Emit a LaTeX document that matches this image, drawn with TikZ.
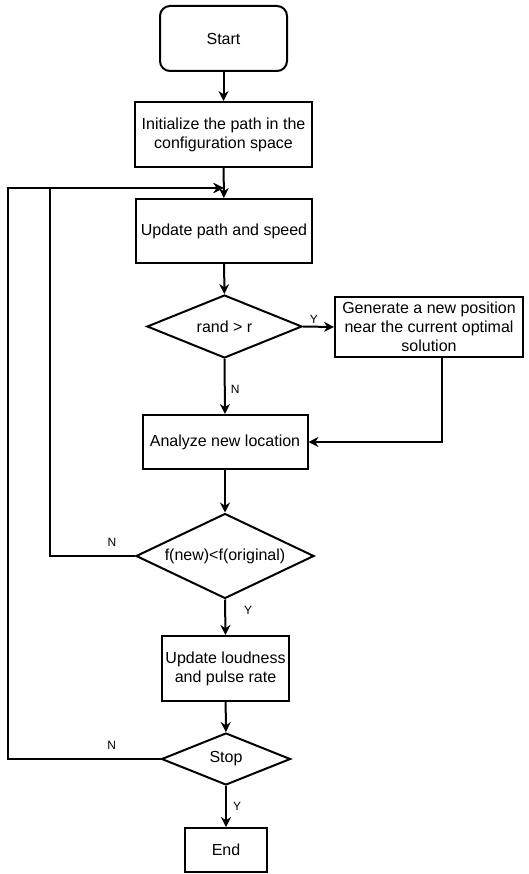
\documentclass[tikz,border=0pt]{standalone}
\usepackage{fontspec}
\setmainfont{Liberation Sans}
\usetikzlibrary{shapes.geometric,arrows.meta}

\begin{document}
\begin{tikzpicture}[x=1pt,y=-1pt,line width=2pt,
  box/.style={draw,rectangle,align=center,font=\fontsize{16}{19}\selectfont,inner sep=2pt},
  dec/.style={draw,diamond,inner sep=0pt,font=\fontsize{16}{19}\selectfont},
  arr/.style={-{Stealth[length=10pt,width=10pt]}},
  lbl/.style={font=\fontsize{12}{14}\selectfont,inner sep=2pt}]
  \useasboundingbox (0,0) rectangle (528,874);
  \node[box,rounded corners=10pt,minimum width=127pt,minimum height=65pt] (St) at (223.5,38.5) {Start};
  \node[box,minimum width=177pt,minimum height=65pt] (In) at (223.5,134.5) {Initialize the path in the\\configuration space};
  \node[box,minimum width=176pt,minimum height=64pt] (Up) at (224,231) {Update path and speed};
  \node[dec,aspect=2.46,minimum width=155pt,minimum height=63pt] (D1) at (224.5,326.5) {rand > r};
  \node[box,minimum width=188pt,minimum height=60pt] (Ge) at (429,327) {Generate a new position\\near the current optimal\\solution};
  \node[box,minimum width=165pt,minimum height=54pt] (An) at (225,442) {Analyze new location};
  \node[dec,aspect=2.1,minimum width=178pt,minimum height=85pt] (D2) at (225,556) {f(new)<f(original)};
  \node[box,minimum width=127pt,minimum height=65pt] (Lo) at (225.5,668.5) {Update loudness\\and pulse rate};
  \node[dec,aspect=2.48,minimum width=129pt,minimum height=52pt] (D3) at (226,759) {Stop};
  \node[box,minimum width=82pt,minimum height=44pt] (En) at (226,850) {End};
  \coordinate (J) at (223.5,188); \coordinate (L1) at (7.7,188); \coordinate (L2) at (50,188);

  \draw[arr] (St) -- (In); \draw[arr] (In) -- (Up); \draw[arr] (Up) -- (D1);
  \draw[arr] (D1.east) -- node[lbl,above,pos=0.35] {Y} (Ge.west);
  \draw[arr] (D1.south) -- node[lbl,right,pos=0.55,xshift=3pt] {N} (An.north);
  \draw[arr] ([xshift=13pt]Ge.south) |- (An.east);
  \draw[arr] (An) -- (D2);
  \draw[arr] (D2.south) -- node[lbl,right,pos=0.3,xshift=16pt] {Y} (Lo.north);
  \draw[arr] (D2.west) -- node[lbl,above,pos=0.27,yshift=7pt] {N} (D2.west -| L2) -- (L2) -- (J);
  \draw[arr] (Lo) -- (D3);
  \draw[arr] (D3.south) -- node[lbl,right,pos=0.5,xshift=4pt] {Y} (En.north);
  \draw[arr] (D3.west) -- node[lbl,above,pos=0.32,yshift=7pt] {N} (D3.west -| L1) -- (L1) -- (J);
\end{tikzpicture}
\end{document}
